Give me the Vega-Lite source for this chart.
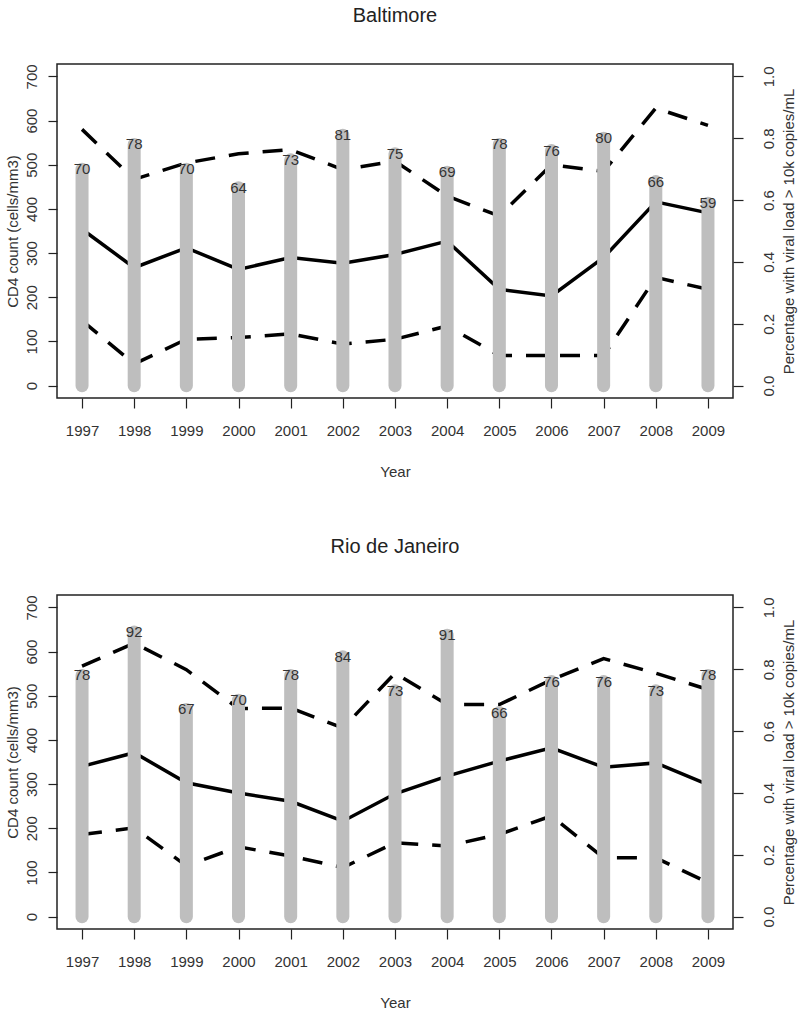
{
  "$schema": "https://vega.github.io/schema/vega-lite/v6.json",
  "padding": {"left": 4, "top": 5, "right": 4, "bottom": 4},
  "config": {
    "font": "Liberation Sans",
    "view": {"stroke": "#222", "strokeWidth": 1.5},
    "axis": {"grid": false, "domain": false, "tickColor": "#222", "tickWidth": 1.2, "labelColor": "#333", "titleColor": "#333", "labelFontSize": 15, "titleFontSize": 15, "titleFontWeight": "normal", "labelFont": "Liberation Sans", "titleFont": "Liberation Sans", "labelOverlap": false, "labelFlush": false},
    "axisLeft": {"labelAngle": 270, "labelAlign": "center", "labelBaseline": "middle", "tickSize": 9, "labelPadding": 17, "titleAngle": 270, "titleAlign": "center", "titleBaseline": "middle", "titleX": -45, "titleY": 167},
    "axisRight": {"labelAngle": 270, "labelAlign": "center", "labelBaseline": "middle", "tickSize": 10, "labelPadding": 25, "titleAngle": 270, "titleAlign": "center", "titleBaseline": "middle", "titleX": 55, "titleY": 167},
    "axisBottom": {"tickSize": 10, "labelPadding": 15, "titlePadding": 26},
    "title": {"fontSize": 20, "fontWeight": "normal", "color": "#222", "offset": 38, "font": "Liberation Sans"},
    "concat": {"spacing": 56}
  },
  "datasets": {
    "d": [
      {"city": "Baltimore", "year": 1997, "pct": 70, "median": 354, "q1": 147, "q3": 580},
      {"city": "Baltimore", "year": 1998, "pct": 78, "median": 267, "q1": 49, "q3": 467},
      {"city": "Baltimore", "year": 1999, "pct": 70, "median": 312, "q1": 105, "q3": 504},
      {"city": "Baltimore", "year": 2000, "pct": 64, "median": 263, "q1": 109, "q3": 525},
      {"city": "Baltimore", "year": 2001, "pct": 73, "median": 290, "q1": 117, "q3": 534},
      {"city": "Baltimore", "year": 2002, "pct": 81, "median": 277, "q1": 94, "q3": 489},
      {"city": "Baltimore", "year": 2003, "pct": 75, "median": 297, "q1": 105, "q3": 508},
      {"city": "Baltimore", "year": 2004, "pct": 69, "median": 327, "q1": 135, "q3": 429},
      {"city": "Baltimore", "year": 2005, "pct": 78, "median": 218, "q1": 68, "q3": 384},
      {"city": "Baltimore", "year": 2006, "pct": 76, "median": 203, "q1": 68, "q3": 500},
      {"city": "Baltimore", "year": 2007, "pct": 80, "median": 290, "q1": 68, "q3": 485},
      {"city": "Baltimore", "year": 2008, "pct": 66, "median": 416, "q1": 245, "q3": 628},
      {"city": "Baltimore", "year": 2009, "pct": 59, "median": 391, "q1": 218, "q3": 589},
      {"city": "Rio de Janeiro", "year": 1997, "pct": 78, "median": 340, "q1": 186, "q3": 567},
      {"city": "Rio de Janeiro", "year": 1998, "pct": 92, "median": 371, "q1": 201, "q3": 619},
      {"city": "Rio de Janeiro", "year": 1999, "pct": 67, "median": 303, "q1": 115, "q3": 559},
      {"city": "Rio de Janeiro", "year": 2000, "pct": 70, "median": 280, "q1": 158, "q3": 471},
      {"city": "Rio de Janeiro", "year": 2001, "pct": 78, "median": 261, "q1": 137, "q3": 472},
      {"city": "Rio de Janeiro", "year": 2002, "pct": 84, "median": 216, "q1": 111, "q3": 427},
      {"city": "Rio de Janeiro", "year": 2003, "pct": 73, "median": 278, "q1": 167, "q3": 551},
      {"city": "Rio de Janeiro", "year": 2004, "pct": 91, "median": 318, "q1": 160, "q3": 480},
      {"city": "Rio de Janeiro", "year": 2005, "pct": 66, "median": 352, "q1": 186, "q3": 480},
      {"city": "Rio de Janeiro", "year": 2006, "pct": 76, "median": 382, "q1": 228, "q3": 536},
      {"city": "Rio de Janeiro", "year": 2007, "pct": 76, "median": 338, "q1": 133, "q3": 584},
      {"city": "Rio de Janeiro", "year": 2008, "pct": 73, "median": 348, "q1": 133, "q3": 551},
      {"city": "Rio de Janeiro", "year": 2009, "pct": 78, "median": 299, "q1": 77, "q3": 514}
    ]
  },
  "vconcat": [
    {
      "title": {"text": "Baltimore"},
      "width": 676, "height": 334,
      "data": {"name": "d"},
      "transform": [{"filter": "datum.city === 'Baltimore'"}],
      "encoding": {"x": {"field": "year", "type": "quantitative", "scale": {"domain": [1996.52, 2009.48], "nice": false, "zero": false}, "axis": {"values": [1997,1998,1999,2000,2001,2002,2003,2004,2005,2006,2007,2008,2009], "format": "d", "title": "Year"}}},
      "layer": [
        {"layer": [
          {"mark": {"type": "line", "color": "black", "strokeWidth": 3.5, "strokeDash": [20, 14]}, "encoding": {"y": {"field": "q3", "type": "quantitative", "scale": {"domain": [-28, 728], "nice": false, "zero": false}, "axis": {"orient": "left", "values": [0,100,200,300,400,500,600,700], "title": "CD4 count (cells/mm3)"}}}},
          {"mark": {"type": "line", "color": "black", "strokeWidth": 3.5, "strokeDash": [20, 14]}, "encoding": {"y": {"field": "q1", "type": "quantitative", "axis": {"orient": "left", "values": [0,100,200,300,400,500,600,700], "title": "CD4 count (cells/mm3)"}}}},
          {"mark": {"type": "line", "color": "black", "strokeWidth": 3.5}, "encoding": {"y": {"field": "median", "type": "quantitative", "axis": {"orient": "left", "values": [0,100,200,300,400,500,600,700], "title": "CD4 count (cells/mm3)"}}}}
        ]},
        {"layer": [
          {"mark": {"type": "rule", "color": "#bebebe", "strokeWidth": 13, "strokeCap": "round"}, "encoding": {"y": {"field": "pct", "type": "quantitative", "scale": {"domain": [-4, 104], "nice": false, "zero": false}, "axis": {"orient": "right", "values": [0,20,40,60,80,100], "labelExpr": "format(datum.value/100, '.1f')", "title": "Percentage with viral load > 10k copies/mL"}}, "y2": {"datum": 0}}},
          {"mark": {"type": "text", "fontSize": 15, "color": "#333", "baseline": "middle"}, "encoding": {"y": {"field": "pct", "type": "quantitative"}, "text": {"field": "pct", "type": "quantitative"}}}
        ]}
      ],
      "resolve": {"scale": {"y": "independent"}}
    },
    {
      "title": {"text": "Rio de Janeiro"},
      "width": 676, "height": 334,
      "data": {"name": "d"},
      "transform": [{"filter": "datum.city === 'Rio de Janeiro'"}],
      "encoding": {"x": {"field": "year", "type": "quantitative", "scale": {"domain": [1996.52, 2009.48], "nice": false, "zero": false}, "axis": {"values": [1997,1998,1999,2000,2001,2002,2003,2004,2005,2006,2007,2008,2009], "format": "d", "title": "Year"}}},
      "layer": [
        {"layer": [
          {"mark": {"type": "line", "color": "black", "strokeWidth": 3.5, "strokeDash": [20, 14]}, "encoding": {"y": {"field": "q3", "type": "quantitative", "scale": {"domain": [-28, 728], "nice": false, "zero": false}, "axis": {"orient": "left", "values": [0,100,200,300,400,500,600,700], "title": "CD4 count (cells/mm3)"}}}},
          {"mark": {"type": "line", "color": "black", "strokeWidth": 3.5, "strokeDash": [20, 14]}, "encoding": {"y": {"field": "q1", "type": "quantitative", "axis": {"orient": "left", "values": [0,100,200,300,400,500,600,700], "title": "CD4 count (cells/mm3)"}}}},
          {"mark": {"type": "line", "color": "black", "strokeWidth": 3.5}, "encoding": {"y": {"field": "median", "type": "quantitative", "axis": {"orient": "left", "values": [0,100,200,300,400,500,600,700], "title": "CD4 count (cells/mm3)"}}}}
        ]},
        {"layer": [
          {"mark": {"type": "rule", "color": "#bebebe", "strokeWidth": 13, "strokeCap": "round"}, "encoding": {"y": {"field": "pct", "type": "quantitative", "scale": {"domain": [-4, 104], "nice": false, "zero": false}, "axis": {"orient": "right", "values": [0,20,40,60,80,100], "labelExpr": "format(datum.value/100, '.1f')", "title": "Percentage with viral load > 10k copies/mL"}}, "y2": {"datum": 0}}},
          {"mark": {"type": "text", "fontSize": 15, "color": "#333", "baseline": "middle"}, "encoding": {"y": {"field": "pct", "type": "quantitative"}, "text": {"field": "pct", "type": "quantitative"}}}
        ]}
      ],
      "resolve": {"scale": {"y": "independent"}}
    }
  ]
}
